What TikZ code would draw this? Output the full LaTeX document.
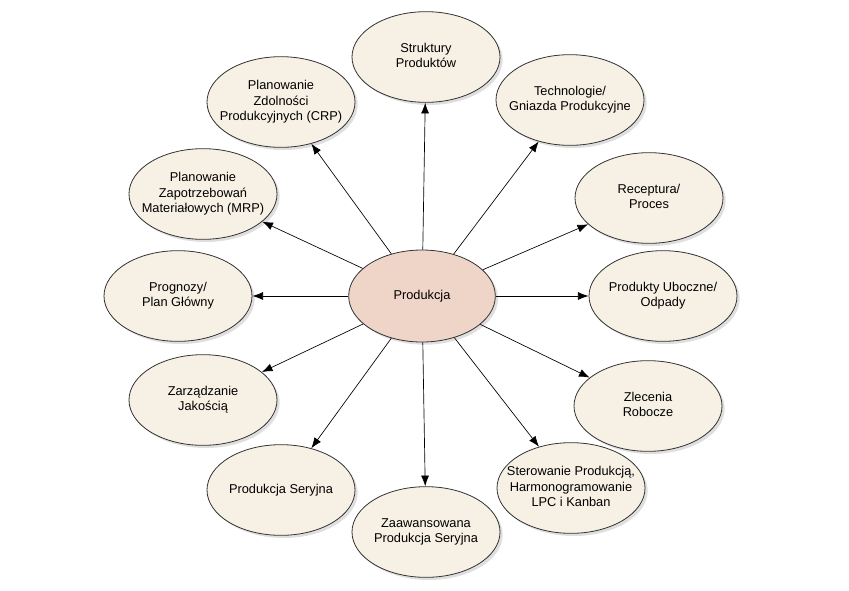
\documentclass[tikz,border=0pt]{standalone}
\usepackage{fontspec}
\setmainfont{Liberation Sans}
\usepackage{tikz}
\usetikzlibrary{shapes.geometric, arrows.meta, shadows}
\definecolor{outerfill}{HTML}{F6F1E4}
\definecolor{hubfill}{HTML}{EFD4C8}
\tikzstyle{every node}=[font=\fontsize{9.6}{11.4}\selectfont]
\tikzstyle{bubble}=[draw=black!80, line width=0.6pt, fill=outerfill, ellipse, inner sep=0pt,
  minimum width=111pt, minimum height=68pt,
  drop shadow={opacity=0.25, shadow xshift=2pt, shadow yshift=-2pt}]
\tikzstyle{hub}=[bubble, fill=hubfill, minimum width=110pt, minimum height=69pt]
\newcommand{\txt}[1]{\makebox[0pt]{\begin{tabular}{@{}c@{}}#1\end{tabular}}}

\begin{document}
\begin{tikzpicture}[x=0.75pt, y=-0.75pt, >={Latex[length=8pt,width=6pt]}]
  \useasboundingbox (0,0) rectangle (849,590);
  \node[hub] (prod) at (422,296) {\txt{Produkcja}};
  % outer ring
  \node[bubble] (struk) at (426,57) {\txt{Struktury\\Produktów}};
  \node[bubble] (tech) at (570,100) {\txt{Technologie/\\Gniazda Produkcyjne}};
  \node[bubble] (rec) at (649,198) {\txt{Receptura/\\Proces}};
  \node[bubble] (odp) at (663,296) {\txt{Produkty Uboczne/\\Odpady}};
  \node[bubble] (zlec) at (648,406) {\txt{Zlecenia\\Robocze}};
  \node[bubble] (ster) at (571,488) {\txt{Sterowanie Produkcją,\\Harmonogramowanie\\LPC i Kanban}};
  \node[bubble] (zaaw) at (426,532) {\txt{Zaawansowana\\Produkcja Seryjna}};
  \node[bubble] (ser) at (281,490) {\txt{Produkcja Seryjna}};
  \node[bubble] (jak) at (203,400) {\txt{Zarządzanie\\Jakością}};
  \node[bubble] (prog) at (178,296) {\txt{Prognozy/\\Plan Główny}};
  \node[bubble] (mrp) at (203,194) {\txt{Planowanie\\Zapotrzebowań\\Materiałowych (MRP)}};
  \node[bubble] (crp) at (281,102) {\txt{Planowanie\\Zdolności\\Produkcyjnych (CRP)}};
  \foreach \n in {struk,tech,rec,odp,zlec,ster,zaaw,ser,jak,prog,mrp,crp}
    \draw[->, line width=0.5pt] (prod) -- (\n);
\end{tikzpicture}
\end{document}
